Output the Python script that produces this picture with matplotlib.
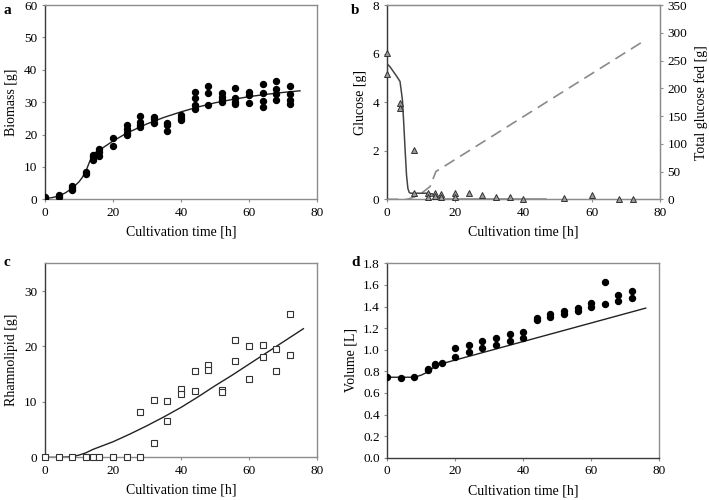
import matplotlib
matplotlib.use("Agg")
import matplotlib.pyplot as plt
import numpy as np

plt.rcParams['font.family'] = ['Liberation Serif', 'DejaVu Serif']
plt.rcParams['font.size'] = 9.5

# ---------------- data ----------------
# (a) biomass
bio_t = [0, 0, 4, 4, 8, 8, 8, 12, 12, 14, 14, 14, 16, 16, 16, 20, 20,
         24, 24, 24, 24, 28, 28, 28, 28, 32, 32, 32, 36, 36, 36, 40, 40, 40,
         44, 44, 44, 44, 48, 48, 48, 52, 52, 52, 52, 56, 56, 56, 56,
         60, 60, 60, 64, 64, 64, 64, 68, 68, 68, 68, 72, 72, 72, 72]
bio_v = [0.2, 0.7, 0.8, 1.2, 2.8, 3.5, 4.2, 7.8, 8.4, 12.2, 13.0, 13.6, 13.5, 14.5, 15.5, 19.0, 16.4,
         23.0, 21.7, 20.5, 20.0, 25.7, 24.0, 23.0, 22.3, 25.5, 24.8, 23.5, 23.6, 23.0, 21.1, 26.0, 25.0, 24.5,
         33.0, 31.3, 29.0, 28.0, 34.9, 32.9, 29.1, 32.7, 31.7, 30.8, 30.1, 34.5, 31.4, 30.1, 29.4,
         33.2, 32.2, 29.6, 35.6, 32.9, 30.4, 28.6, 36.5, 34.2, 32.5, 30.6, 34.9, 32.5, 30.6, 29.4]
bio_model_t = [0, 2, 4, 6, 8, 10, 11, 12, 13, 14, 15, 16, 18, 20, 24, 30, 35, 40, 45, 50, 55, 60, 65, 70, 75]
bio_model_v = [0.2, 0.5, 1.0, 2.0, 3.4, 5.4, 6.8, 8.6, 11.3, 13.8, 14.6, 15.2, 16.6, 18.0, 20.4, 23.3, 25.3, 27.0,
               28.5, 29.8, 30.8, 31.7, 32.4, 33.0, 33.5]

# (b) glucose
glc_t = [0, 0, 4, 4, 8, 8, 12, 12, 14, 14, 16, 16, 20, 20, 24, 28, 32, 36, 40, 52, 60, 68, 72]
glc_v = [6.04, 5.16, 3.95, 3.75, 2.03, 0.27, 0.27, 0.08, 0.27, 0.15, 0.2, 0.08, 0.27, 0.1,
         0.25, 0.18, 0.1, 0.08, 0.0, 0.04, 0.18, 0.0, 0.0]
glc_model_t = [0, 1, 2, 3, 3.9, 4.6, 5.0, 5.4, 5.8, 6.2, 6.6, 7.0, 8, 10, 12, 13.5, 14.2, 20, 30, 40, 46.6]
glc_model_v = [5.6, 5.45, 5.25, 5.05, 4.85, 4.1, 3.1, 2.0, 1.0, 0.45, 0.28, 0.25, 0.25, 0.25, 0.25, 0.22, 0.0,
               0.0, 0.0, 0.0, 0.0]
fed_t = [0, 6, 8, 10, 12.7, 14.4, 76]
fed_v = [0, 0, 4, 10, 23, 50, 288]

# (c) rhamnolipid
rl_t = [0, 4, 8, 12, 14, 16, 20, 24, 28, 28, 32, 32, 36, 36, 40, 40, 44, 44, 48, 48,
        52, 52, 56, 56, 60, 60, 64, 64, 68, 68, 72, 72]
rl_v = [0, 0, 0, 0, 0.05, 0.1, 0.1, 0.05, 0.1, 8.1, 10.3, 2.5, 10.1, 6.6, 12.4, 11.5, 15.5, 12.0, 16.7, 15.7,
        12.1, 11.7, 21.2, 17.4, 20.0, 14.2, 20.3, 18.1, 19.5, 15.5, 25.8, 18.5]
rl_model_t = [0, 4, 8, 10, 12, 14, 20, 25, 30, 35, 40, 45, 50, 55, 60, 65, 70, 76]
rl_model_v = [0, 0, 0.1, 0.4, 0.8, 1.4, 2.8, 4.2, 5.7, 7.3, 9.0, 10.9, 12.9, 14.8, 16.8, 18.8, 20.8, 23.2]

# (d) volume
vol_t = [0, 4, 8, 12, 12, 14, 14, 16, 20, 20, 24, 24, 28, 28, 32, 32, 36, 36, 40, 40,
         44, 44, 48, 48, 52, 52, 56, 56, 60, 60, 64, 64, 68, 68, 72, 72]
vol_v = [0.745, 0.74, 0.75, 0.81, 0.82, 0.86, 0.87, 0.88, 1.013, 0.929, 1.044, 0.976, 1.081, 1.013,
         1.111, 1.047, 1.142, 1.077, 1.167, 1.108, 1.294, 1.272, 1.328, 1.303, 1.358, 1.331,
         1.389, 1.358, 1.43, 1.392, 1.627, 1.42, 1.507, 1.451, 1.54, 1.482]
vol_model_t = [0, 4, 8, 10, 12, 14, 16, 76]
vol_model_v = [0.745, 0.745, 0.745, 0.765, 0.795, 0.845, 0.87, 1.385]

# ---------------- plotting ----------------
fig = plt.figure(figsize=(7.09, 5.0), dpi=100)
W, H = 709, 500

def add_ax(l, r, t, b):
    return fig.add_axes([l / W, 1 - b / H, (r - l) / W, (b - t) / H])

ax_a = add_ax(45, 317, 5, 199.3)
ax_b = add_ax(386.7, 660, 5, 199.3)
ax_c = add_ax(45, 317, 263.3, 457.3)
ax_d = add_ax(387.3, 659.3, 263.3, 457.7)

SPINE = '#8c8c8c'
DARK = '#3a3a3a'

def style(ax):
    for s in ax.spines.values():
        s.set_color(SPINE)
        s.set_linewidth(1.0)
    ax.spines['left'].set_color(DARK)
    ax.tick_params(direction='out', length=2.5, width=0.8, color=SPINE, labelsize=9.5, pad=3)
    ax.set_xlim(0, 80)
    ax.set_xticks([0, 20, 40, 60, 80])
    ax.set_xlabel('Cultivation time [h]', fontsize=10, labelpad=5)

# a
style(ax_a)
ax_a.plot(bio_model_t, bio_model_v, color='#222222', lw=1.0, zorder=2)
ax_a.plot(bio_t, bio_v, 'o', color='black', ms=4.3, zorder=3)
ax_a.set_ylim(0, 60)
ax_a.set_yticks(range(0, 61, 10))
ax_a.set_ylabel('Biomass [g]', fontsize=10, labelpad=4)

# b
style(ax_b)
ax_b2 = ax_b.twinx()
ax_b2.set_ylim(0, 350)
ax_b2.set_yticks(range(0, 351, 50))
for s in ax_b2.spines.values():
    s.set_color(SPINE)
ax_b2.tick_params(direction='out', length=2.5, width=0.8, color=SPINE, labelsize=9.5, pad=3)
ax_b2.plot(fed_t, fed_v, color='#8a8a8a', lw=1.2, dashes=(7, 4), zorder=2)
ax_b2.set_ylabel('Total glucose fed [g]', fontsize=10, labelpad=5)
ax_b.plot(glc_model_t, glc_model_v, color='#444444', lw=1.1, zorder=3)
ax_b.plot(glc_t, glc_v, '^', ms=4.0, mfc='#9a9a9a', mec='#333333', mew=0.7, zorder=4, clip_on=False)
ax_b.set_ylim(0, 8)
ax_b.set_yticks(range(0, 9, 2))
ax_b.set_ylabel('Glucose [g]', fontsize=10, labelpad=4)
ax_b.set_zorder(ax_b2.get_zorder() + 1)
ax_b.patch.set_visible(False)

# c
style(ax_c)
ax_c.plot(rl_model_t, rl_model_v, color='#222222', lw=1.0, zorder=2)
ax_c.plot(rl_t, rl_v, 's', ms=4.0, mfc='white', mec='#333333', mew=0.8, zorder=3, clip_on=False)
ax_c.set_ylim(0, 35)
ax_c.set_yticks([0, 10, 20, 30])
ax_c.set_ylabel('Rhamnolipid [g]', fontsize=10, labelpad=4)

# d
style(ax_d)
ax_d.spines['bottom'].set_color(DARK)
ax_d.plot(vol_model_t, vol_model_v, color='#222222', lw=1.0, zorder=2)
ax_d.plot(vol_t, vol_v, 'o', color='black', ms=4.3, zorder=3)
ax_d.set_ylim(0, 1.8)
ax_d.set_yticks(np.arange(0, 1.81, 0.2))
ax_d.yaxis.set_major_formatter(matplotlib.ticker.FormatStrFormatter('%.1f'))
ax_d.set_ylabel('Volume [L]', fontsize=10, labelpad=4)

# panel letters
for txt, x, y in [('a', 3, 10), ('b', 351, 10), ('c', 3, 262), ('d', 351, 262)]:
    fig.text(x / W, 1 - y / H, txt, fontsize=11, fontweight='bold', ha='left', va='center')

fig.savefig('out.png', dpi=100)
